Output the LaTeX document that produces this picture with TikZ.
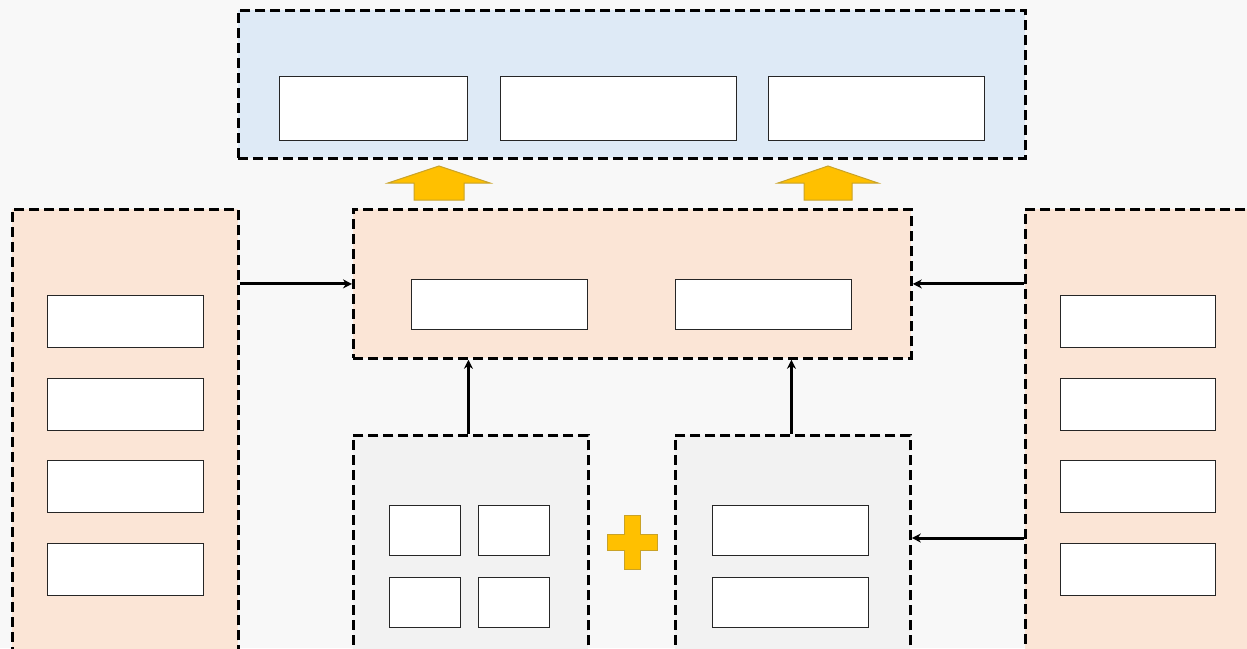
\documentclass[tikz,border=0pt]{standalone}
\usetikzlibrary{arrows.meta,calc}
\definecolor{bgc}{HTML}{F8F8F8}
\definecolor{bluec}{HTML}{DEEAF6}
\definecolor{peachc}{HTML}{FBE5D6}
\definecolor{grayc}{HTML}{F2F2F2}
\definecolor{goldc}{HTML}{FFC000}
\definecolor{goldedge}{HTML}{C9A227}
\tikzset{
  grp/.style={draw=black, line width=2.8pt, dash pattern=on 10pt off 5pt, anchor=north west, inner sep=0pt},
  cell/.style={draw=black!85, line width=1.3pt, fill=white, anchor=north west, inner sep=0pt},
  arr/.style={line width=3pt, -{Stealth[length=9pt,width=9pt]}},
  bigarrow/.style={fill=goldc, draw=goldedge, line width=1pt},
}
\begin{document}
\begin{tikzpicture}[x=1pt,y=-1pt]
\fill[bgc] (0,0) rectangle (1247,648);
\useasboundingbox (0,0) rectangle (1247,648);
\clip (0,0) rectangle (1247,648);
% group boxes
\node[grp, fill=bluec, minimum width=787pt, minimum height=148pt] (top) at (237,9) {};
\node[grp, fill=peachc, minimum width=558pt, minimum height=149pt] (mid) at (352,208) {};
\node[grp, fill=peachc, minimum width=226pt, minimum height=460pt] (left) at (11,208) {};
\node[grp, fill=peachc, minimum width=240pt, minimum height=460pt] (right) at (1024,208) {};
\node[grp, fill=grayc, minimum width=235pt, minimum height=230pt] (bl) at (352,434) {};
\node[grp, fill=grayc, minimum width=235pt, minimum height=230pt] (br) at (674,434) {};
% top cells
\node[cell, minimum width=188pt, minimum height=64pt] (t1) at (279,76) {};
\node[cell, minimum width=236pt, minimum height=64pt] (t2) at (500,76) {};
\node[cell, minimum width=216pt, minimum height=64pt] (t3) at (768,76) {};
% middle cells
\node[cell, minimum width=176pt, minimum height=50pt] (m1) at (411,279) {};
\node[cell, minimum width=176pt, minimum height=50pt] (m2) at (675,279) {};
% left cells
\node[cell, minimum width=156pt, minimum height=52pt] (l1) at (47,295) {};
\node[cell, minimum width=156pt, minimum height=52pt] (l2) at (47,378) {};
\node[cell, minimum width=156pt, minimum height=52pt] (l3) at (47,460) {};
\node[cell, minimum width=156pt, minimum height=52pt] (l4) at (47,543) {};
% right cells
\node[cell, minimum width=155pt, minimum height=52pt] (r1) at (1060,295) {};
\node[cell, minimum width=155pt, minimum height=52pt] (r2) at (1060,378) {};
\node[cell, minimum width=155pt, minimum height=52pt] (r3) at (1060,460) {};
\node[cell, minimum width=155pt, minimum height=52pt] (r4) at (1060,543) {};
% bottom-left cells
\node[cell, minimum width=71pt, minimum height=50pt] (b1) at (389,505) {};
\node[cell, minimum width=71pt, minimum height=50pt] (b2) at (478,505) {};
\node[cell, minimum width=71pt, minimum height=50pt] (b3) at (389,577) {};
\node[cell, minimum width=71pt, minimum height=50pt] (b4) at (478,577) {};
% bottom-right cells
\node[cell, minimum width=156pt, minimum height=50pt] (c1) at (712,505) {};
\node[cell, minimum width=156pt, minimum height=50pt] (c2) at (712,577) {};
% block arrows up
\draw[bigarrow] (414,200) -- (414,183) -- (388,183) -- (439,166) -- (490,183) -- (464,183) -- (464,200) -- cycle;
\draw[bigarrow] (804,200) -- (804,183) -- (778,183) -- (828,166) -- (878,183) -- (852,183) -- (852,200) -- cycle;
% plus sign
\draw[bigarrow] (624,515) -- (640,515) -- (640,534) -- (657,534) -- (657,550) -- (640,550) -- (640,569) -- (624,569) -- (624,550) -- (607,550) -- (607,534) -- (624,534) -- cycle;
% connectors
\coordinate (ra) at (1024,538);
\draw[arr] (mid.west -| left.east) -- (mid.west);
\draw[arr] (mid.east -| right.west) -- (mid.east);
\draw[arr] ([xshift=-2.5pt]bl.north) -- ([xshift=-2.5pt]bl.north |- mid.south);
\draw[arr] ([xshift=-1.5pt]br.north) -- ([xshift=-1.5pt]br.north |- mid.south);
\draw[arr] (ra) -- (ra -| br.east);
\end{tikzpicture}
\end{document}
